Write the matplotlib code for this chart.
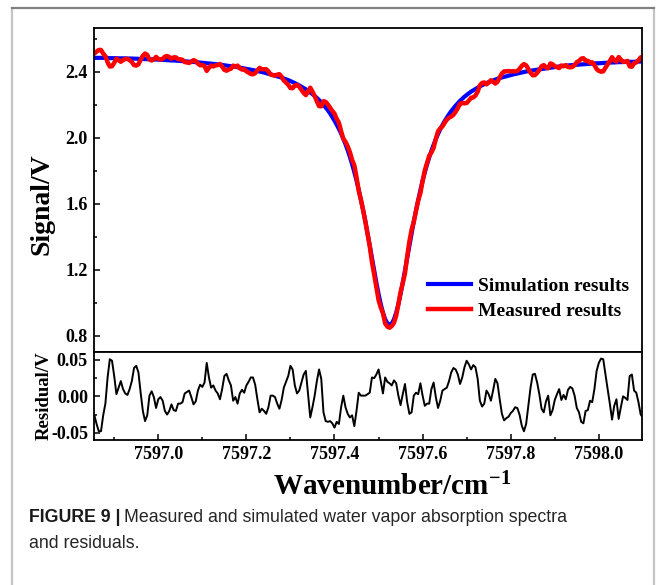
import matplotlib
matplotlib.use("Agg")
import matplotlib.pyplot as plt
import numpy as np
from matplotlib.lines import Line2D
from matplotlib.ticker import MultipleLocator, FormatStrFormatter

# fuente tipo Times en negrita
plt.rcParams['font.family'] = ['Liberation Serif', 'DejaVu Serif']
plt.rcParams['font.weight'] = 'bold'
plt.rcParams['mathtext.fontset'] = 'custom'
plt.rcParams['mathtext.rm'] = 'Liberation Serif:bold'
plt.rcParams['mathtext.bf'] = 'Liberation Serif:bold'
plt.rcParams['mathtext.default'] = 'rm'

# eje de numero de onda (paso 0.005 cm-1)
wn_start = 7596.85
wn_step = 0.005
n_points = 251

# resultado simulado (V)
simulation = [
    2.484, 2.484, 2.484, 2.484, 2.484, 2.484, 2.484, 2.483, 2.482, 2.482,
    2.482, 2.482, 2.481, 2.481, 2.481, 2.481, 2.480, 2.480, 2.480, 2.479,
    2.479, 2.478, 2.477, 2.477, 2.476, 2.476, 2.475, 2.475, 2.474, 2.474,
    2.473, 2.473, 2.472, 2.471, 2.470, 2.469, 2.468, 2.468, 2.467, 2.466,
    2.465, 2.464, 2.463, 2.462, 2.461, 2.460, 2.459, 2.458, 2.457, 2.455,
    2.454, 2.453, 2.451, 2.450, 2.449, 2.447, 2.446, 2.444, 2.443, 2.441,
    2.439, 2.437, 2.435, 2.433, 2.431, 2.429, 2.427, 2.425, 2.422, 2.420,
    2.417, 2.415, 2.412, 2.410, 2.407, 2.404, 2.401, 2.398, 2.395, 2.391,
    2.387, 2.384, 2.380, 2.376, 2.372, 2.368, 2.364, 2.359, 2.354, 2.349,
    2.343, 2.337, 2.331, 2.324, 2.317, 2.309, 2.301, 2.293, 2.284, 2.274,
    2.264, 2.253, 2.241, 2.228, 2.214, 2.199, 2.183, 2.166, 2.147, 2.125,
    2.103, 2.079, 2.053, 2.025, 1.994, 1.960, 1.923, 1.883, 1.839, 1.791,
    1.740, 1.684, 1.624, 1.561, 1.493, 1.421, 1.347, 1.272, 1.196, 1.122,
    1.053, 0.991, 0.939, 0.899, 0.874, 0.865, 0.873, 0.898, 0.938, 0.990,
    1.052, 1.121, 1.195, 1.271, 1.346, 1.419, 1.491, 1.559, 1.622, 1.682,
    1.738, 1.789, 1.836, 1.880, 1.920, 1.957, 1.991, 2.022, 2.050, 2.076,
    2.100, 2.121, 2.142, 2.161, 2.178, 2.194, 2.209, 2.223, 2.236, 2.248,
    2.259, 2.269, 2.279, 2.287, 2.295, 2.303, 2.311, 2.318, 2.325, 2.331,
    2.337, 2.342, 2.347, 2.352, 2.357, 2.361, 2.365, 2.369, 2.372, 2.376,
    2.379, 2.383, 2.386, 2.389, 2.392, 2.395, 2.398, 2.401, 2.403, 2.406,
    2.408, 2.410, 2.412, 2.414, 2.416, 2.418, 2.420, 2.422, 2.424, 2.426,
    2.428, 2.430, 2.432, 2.433, 2.435, 2.436, 2.438, 2.439, 2.440, 2.441,
    2.442, 2.443, 2.444, 2.445, 2.446, 2.447, 2.448, 2.449, 2.450, 2.451,
    2.451, 2.452, 2.453, 2.454, 2.454, 2.455, 2.456, 2.456, 2.457, 2.458,
    2.458, 2.459, 2.459, 2.460, 2.460, 2.460, 2.460, 2.461, 2.461, 2.462,
    2.462,
]

# residuo = simulado - medido (V)
residual = [
    -0.026, -0.026, -0.038, -0.048, -0.048, -0.026, -0.010, 0.026, 0.051, 0.049,
    0.028, 0.003, 0.012, 0.021, 0.010, 0.004, 0.002, 0.010, 0.021, 0.039,
    0.042, 0.033, 0.005, -0.020, -0.034, -0.026, 0.001, 0.007, -0.001, -0.016,
    -0.004, -0.001, -0.006, -0.020, -0.025, -0.020, -0.011, -0.019, -0.020, -0.010,
    -0.010, -0.008, 0.004, 0.006, 0.008, -0.001, -0.011, -0.007, 0.008, 0.016,
    0.013, 0.019, 0.046, 0.026, 0.012, 0.015, 0.008, 0.004, -0.004, 0.010,
    0.028, 0.031, 0.022, 0.015, -0.006, -0.001, -0.010, 0.004, 0.009, 0.005,
    0.015, 0.020, 0.026, 0.026, 0.016, -0.004, -0.022, -0.017, -0.020, -0.024,
    -0.015, 0.001, 0.001, -0.001, -0.010, -0.017, -0.005, 0.012, 0.020, 0.028,
    0.042, 0.037, 0.015, 0.004, 0.008, 0.019, 0.030, 0.035, 0.003, -0.029,
    -0.015, 0.001, 0.021, 0.037, 0.024, -0.022, -0.034, -0.035, -0.034, -0.037,
    -0.043, -0.035, -0.038, -0.015, 0.001, -0.015, -0.024, -0.029, -0.026, -0.041,
    -0.020, 0.005, 0.001, 0.001, 0.001, 0.003, 0.005, 0.026, 0.025, 0.030,
    0.037, 0.021, 0.004, 0.026, 0.020, 0.018, 0.015, 0.022, 0.018, 0.001,
    -0.012, 0.003, 0.017, -0.008, -0.024, -0.022, 0.001, 0.005, 0.003, 0.018,
    0.001, -0.013, -0.010, -0.010, 0.010, 0.019, -0.001, -0.016, -0.006, 0.008,
    0.010, 0.012, 0.021, 0.033, 0.039, 0.037, 0.030, 0.017, 0.026, 0.040,
    0.049, 0.044, 0.037, 0.043, 0.040, 0.024, -0.006, -0.014, -0.010, 0.008,
    0.003, -0.006, 0.008, 0.024, 0.018, -0.004, -0.024, -0.033, -0.030, -0.028,
    -0.023, -0.020, -0.015, -0.016, -0.025, -0.040, -0.048, -0.038, -0.013, 0.012,
    0.030, 0.031, 0.019, 0.003, -0.017, -0.022, -0.007, 0.001, -0.026, -0.019,
    -0.005, 0.003, 0.010, -0.005, 0.002, -0.004, 0.009, 0.013, 0.011, 0.001,
    -0.016, -0.022, -0.035, -0.037, -0.020, -0.019, -0.006, -0.008, 0.010, 0.035,
    0.046, 0.052, 0.051, 0.030, 0.010, -0.010, -0.032, -0.013, -0.004, -0.031,
    -0.015, 0.000, -0.002, -0.005, 0.028, 0.030, 0.008, 0.005, -0.008, -0.025,
    -0.029,
]

signal_ticks = [0.8, 1.2, 1.6, 2.0, 2.4]
residual_ticks = [-0.05, 0.00, 0.05]
wn_ticks = [7597.0, 7597.2, 7597.4, 7597.6, 7597.8, 7598.0]

wn = wn_start + wn_step * np.arange(n_points)
sim = np.array(simulation)
res = np.array(residual)
measured = sim - res

W, H = 665, 585
fig = plt.figure(figsize=(W / 100, H / 100), dpi=100)

# marco exterior del recuadro de la figura
fig.add_artist(Line2D([12 / W, 12 / W], [0, 1 - 8 / H], transform=fig.transFigure,
                      color='#c4c4c4', lw=1.6))
fig.add_artist(Line2D([654 / W, 654 / W], [0, 1 - 8 / H], transform=fig.transFigure,
                      color='#c4c4c4', lw=1.6))
fig.add_artist(Line2D([12 / W, 654 / W], [1 - 8 / H, 1 - 8 / H], transform=fig.transFigure,
                      color='#808080', lw=1.6))

left = 93.5 / W
width = (642 - 93.5) / W
ax1 = fig.add_axes([left, 1 - 352 / H, width, (352 - 28) / H])
ax2 = fig.add_axes([left, 1 - 440 / H, width, (440 - 352) / H])

xlim = (7596.853, 7598.098)

# panel superior: señal
ax1.plot(wn, sim, color='#0000ff', lw=3.0, label='Simulation results')
ax1.plot(wn, measured, color='#ff0000', lw=3.2, label='Measured results')
ax1.set_xlim(*xlim)
ax1.set_ylim(0.70, 2.665)
ax1.set_yticks(signal_ticks)
ax1.yaxis.set_minor_locator(MultipleLocator(0.2))
ax1.yaxis.set_major_formatter(FormatStrFormatter('%.1f'))
ax1.tick_params(axis='x', which='both', bottom=False, labelbottom=False)
# la coordenada x marca el borde derecho de la etiqueta girada
ax1.set_ylabel('Signal/V', fontsize=20, fontweight='bold')
ax1.yaxis.set_label_coords(-(93.5 - 54) / 548.5, (352 - 204) / 324)
leg = ax1.legend(loc='center left', bbox_to_anchor=((428 - 93.5) / 548.5, 0.165),
                 frameon=False, prop={'weight': 'bold', 'size': 14},
                 handlelength=2.2, handletextpad=0.35, labelspacing=0.38,
                 borderpad=0, borderaxespad=0)

# panel inferior: residuo
ax2.plot(wn, res, color='black', lw=1.4)
ax2.set_xlim(*xlim)
ax2.set_ylim(-0.06, 0.061)
ax2.set_yticks(residual_ticks)
ax2.yaxis.set_minor_locator(MultipleLocator(0.025))
ax2.yaxis.set_major_formatter(FormatStrFormatter('%.2f'))
ax2.set_xticks(wn_ticks)
ax2.xaxis.set_minor_locator(MultipleLocator(0.1))
ax2.xaxis.set_major_formatter(FormatStrFormatter('%.1f'))
ax2.set_ylabel('Residual/V', fontsize=13.5, fontweight='bold')
ax2.yaxis.set_label_coords(-(93.5 - 53) / 548.5, 0.5)

for ax in (ax1, ax2):
    for sp in ax.spines.values():
        sp.set_linewidth(1.3)
    ax.tick_params(which='both', direction='in', top=False, right=False,
                   labelsize=13, width=1.1, pad=4)
    ax.tick_params(which='major', length=4)
    ax.tick_params(which='minor', length=2.5)
    for lab in ax.get_xticklabels() + ax.get_yticklabels():
        lab.set_fontweight('bold')

# titulo del eje x
fig.text(392 / W, 1 - 487 / H, r'Wavenumber/cm$^{-1}$', fontsize=21,
         fontweight='bold', ha='center', va='center')

# pie de figura
fig.canvas.draw()
renderer = fig.canvas.get_renderer()
cap_size = 12.8
t1 = fig.text(29 / W, 1 - 518 / H, 'FIGURE 9 |', fontsize=cap_size, fontweight='bold',
              family=['Liberation Sans', 'DejaVu Sans'], color='#1a1a1a', va='center')
bb = t1.get_window_extent(renderer=renderer)
fig.text((bb.x1 + 4) / W, 1 - 518 / H,
         'Measured and simulated water vapor absorption spectra',
         fontsize=cap_size, fontweight='normal', family=['Liberation Sans', 'DejaVu Sans'],
         color='#262626', va='center')
fig.text(29 / W, 1 - 543 / H, 'and residuals.', fontsize=cap_size, fontweight='normal',
         family=['Liberation Sans', 'DejaVu Sans'], color='#262626', va='center')

fig.savefig('out.png', dpi=100)
